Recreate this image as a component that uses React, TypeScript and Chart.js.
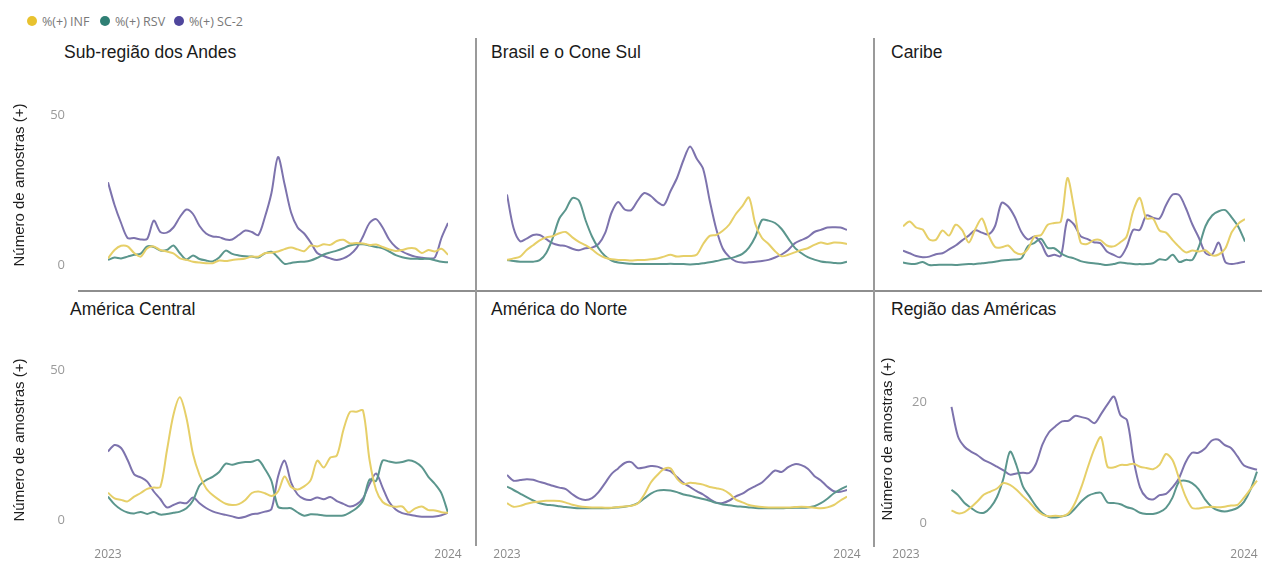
import React, { useEffect, useRef } from 'react';
import { Chart, registerables } from 'chart.js';

Chart.register(...registerables);

// ---------- labels ----------
const SERIES_LABELS = ['%(+) INF', '%(+) RSV', '%(+) SC-2'];
const X_TICK_LABELS = ['2023', '2024'];
const X_TICK_WEEKS = [0, 52];
const Y_AXIS_TITLE = 'Número de amostras (+)';

// ---------- data (weekly values, % positive) ----------
const ANDES_INF = [2.2, 5, 6.4, 6.2, 4, 2.8, 5.6, 6.2, 5, 4.5, 3.9, 2.2, 1.7, 1.1, 0.8, 0.6, 0.6, 1.5, 1.3, 1.7, 1.9, 2.2, 2.8, 2.8, 3.9, 4.1, 4.5, 5.3, 5.8, 5.2, 4.6, 6.5, 6.2, 6.9, 6.7, 8, 8.4, 7.2, 7.3, 7.2, 6.7, 6.8, 6, 5.2, 4.7, 5, 5.6, 5.5, 4, 5, 4.5, 5.4, 3.4];
const ANDES_RSV = [1.7, 2.5, 2.2, 2.8, 3.4, 3.8, 6.2, 6, 4.8, 5, 6.5, 3.9, 1.8, 3.2, 2, 1.5, 1.2, 2.5, 4.8, 3.7, 3.2, 2.9, 2.8, 2.5, 3.9, 4.4, 2.5, 0.4, 0.7, 1, 1.1, 1.5, 2.4, 3.5, 4.2, 4.8, 5.6, 6.5, 6.9, 6.9, 6.5, 6, 5.6, 4.5, 3.3, 2.6, 2.2, 2.1, 2, 2.1, 1.6, 1.1, 0.9];
const ANDES_SC2 = [27.6, 20, 14, 9, 9, 8.5, 8.7, 14.8, 11, 10.8, 12.5, 16, 18.5, 17, 13, 10.5, 9.5, 9.3, 8.5, 8.5, 10, 11.5, 11, 10, 16, 24, 36, 27, 17.5, 12.5, 10.5, 7.5, 4, 3, 2.2, 1.7, 2.2, 3.4, 5.6, 9.5, 14, 15.3, 12.5, 8.5, 6, 4.5, 3.5, 2.8, 2.4, 2.2, 2.5, 9, 14];

const BRASIL_INF = [1.7, 2.2, 2.8, 5, 6.6, 8.2, 9.2, 9.6, 10.6, 11, 9.2, 7.7, 6.6, 5.2, 3.5, 2.4, 1.9, 1.7, 1.7, 1.5, 1.7, 1.7, 1.9, 2.2, 2.8, 3.4, 2.8, 3, 3, 3.4, 7, 9.7, 10, 11.4, 13.5, 17, 19.6, 22.5, 13.5, 9, 7, 4.6, 2.9, 3.4, 4.2, 5, 5.6, 6.7, 7.5, 7, 7.5, 7.4, 7];
const BRASIL_RSV = [1.7, 1.3, 1.1, 1.1, 1.1, 1.6, 4, 9, 15.5, 18.5, 22.3, 21.5, 15, 9.5, 5.6, 3, 1.5, 0.8, 0.6, 0.4, 0.3, 0.3, 0.3, 0.3, 0.3, 0.4, 0.3, 0.3, 0.2, 0.3, 0.6, 0.9, 1.3, 1.8, 2.2, 2.8, 3.7, 5.8, 9.5, 15, 14.8, 14, 12, 8.9, 5.8, 4, 2.6, 1.8, 1.2, 0.9, 0.7, 0.6, 1.1];
const BRASIL_SC2 = [23.5, 12.3, 7.9, 8.8, 10, 10, 8.6, 7.2, 6.6, 6.3, 5.4, 4.9, 5.6, 5.8, 7, 10.6, 17.5, 21, 18.5, 18.3, 21.5, 24, 23, 21, 20, 24.6, 29, 35, 39.5, 35.5, 32, 21.5, 12, 5.5, 2.7, 1.2, 0.8, 0.9, 1.1, 1.3, 1.7, 2.5, 3.5, 5, 7.2, 8.3, 9.3, 11, 11.7, 12.5, 12.6, 12.5, 11.7];

const CARIBE_INF = [12.9, 14.5, 12.5, 11.8, 8.5, 8.4, 11.5, 9.8, 13.4, 11.6, 7.5, 12, 15.5, 10, 6, 5.9, 6.5, 4.3, 3.6, 5.4, 9.5, 10, 13.4, 14, 14.5, 29, 19, 7.5, 7, 8.3, 8.3, 6.5, 6.2, 7.5, 9.5, 18, 22.4, 15.5, 15.5, 11.5, 10.8, 8.3, 6, 4.2, 4.8, 4.5, 4.9, 3.2, 3.5, 5.5, 11, 13.8, 15.3];
const CARIBE_RSV = [0.8, 0.4, 0.4, 1, 0, 0, 0.1, 0.1, 0, 0.2, 0.3, 0.3, 0.6, 0.8, 1.1, 1.5, 1.7, 1.8, 2.2, 6.3, 7.4, 8.7, 5.7, 5.6, 3.9, 2.8, 2.2, 1.3, 0.8, 0.6, 0.3, 0, 0.3, 0.8, 0.6, 0.3, 0.3, 0.3, 0.6, 1.9, 1.7, 3.4, 1, 1.7, 1.7, 6.2, 13, 16.5, 17.9, 18.3, 15.8, 12.7, 7.8];
const CARIBE_SC2 = [4.8, 3.9, 3, 2.6, 2.8, 3.6, 3.9, 5.2, 6.5, 8.2, 9.8, 11.6, 10.8, 10.2, 13, 20.7, 19.5, 16, 11, 8.5, 9.5, 7.2, 3, 3.4, 3, 15, 13.5, 9.6, 8.7, 7.6, 7.3, 4.5, 3.4, 2.6, 6, 11.7, 11.7, 16.5, 15.8, 15.5, 20, 23.5, 23.3, 19, 13.5, 9, 4, 3.5, 7.5, 1, 0.3, 0.7, 1.1];

const CENTRAL_INF = [9.1, 7.2, 6.7, 6.2, 7.8, 9, 10.4, 10.8, 11, 23, 35, 40.9, 34, 22, 15, 10.6, 8.3, 6.7, 5.4, 5, 5.3, 6.7, 9, 9.5, 8.9, 8, 9.5, 14.5, 11, 10.2, 11.2, 13.3, 19.8, 17.5, 20.8, 21.5, 30, 36, 36.1, 36.5, 20, 10, 6, 4.8, 4.4, 4.5, 2.5, 3.9, 4.5, 3.3, 3.2, 2.6, 2.4];
const CENTRAL_RSV = [7.8, 5.2, 3.5, 2.5, 2.2, 2.7, 2, 2.7, 1.8, 2, 2.4, 2.8, 3.9, 6.5, 11.5, 13.3, 14.4, 16, 18.8, 18.4, 19, 19.3, 19.4, 20, 17, 13, 4.4, 3.9, 3.9, 2.5, 1.4, 1.9, 1.8, 1.5, 1.4, 1.4, 1.5, 2.5, 3.9, 6.5, 13.5, 13, 19.8, 19.5, 19.1, 19.3, 19.9, 19.3, 17.6, 14.4, 12, 8.9, 2.4];
const CENTRAL_SC2 = [22.8, 25, 24, 20, 15.2, 14.2, 12.8, 9.5, 7, 4.2, 5, 5.8, 5.6, 7.5, 5.6, 4, 2.9, 2.2, 1.7, 1.2, 0.7, 1.1, 1.9, 2.2, 2.8, 3.6, 14.4, 19.8, 12.5, 8.5, 7, 6.7, 7.5, 6.9, 7.7, 6.3, 5.4, 4.5, 5.2, 7.2, 12, 15.5, 10.8, 6, 3.5, 2.3, 1.8, 1.4, 1.1, 1.1, 1.2, 1.6, 2.4];

const NORTE_INF = [5.6, 4.4, 4.7, 5.4, 5.9, 6.2, 6.4, 6.4, 6.3, 5.8, 5.1, 4.6, 4.3, 4.2, 4.2, 4.1, 4.1, 4.3, 4.5, 4.7, 5.5, 8.5, 12.5, 15, 17, 17.2, 13.8, 12, 12.4, 12.2, 11.8, 11, 10.6, 10.1, 8.8, 6.8, 5.9, 5, 4.6, 4.3, 4.2, 4.2, 4.2, 4.2, 4.3, 4.4, 4.3, 4.1, 3.9, 4.2, 5, 6.5, 7.8];
const NORTE_RSV = [11.1, 10, 8.8, 7.6, 6.5, 5.6, 5.1, 4.9, 4.6, 4.3, 4.1, 3.9, 3.9, 3.9, 3.9, 3.9, 4, 4.2, 4.4, 4.8, 5.6, 7.2, 8.8, 9.8, 10, 9.8, 9.3, 8.5, 8.1, 7.5, 7, 6.4, 5.7, 5.2, 4.9, 4.6, 4.4, 4.2, 4, 3.9, 3.9, 3.9, 3.9, 4, 4.1, 4.1, 4.2, 4.6, 5.6, 7.1, 8.9, 10.2, 11.3];
const NORTE_SC2 = [15, 13.1, 13.3, 13.6, 13.4, 12.7, 12.1, 11.4, 10.8, 10.3, 8.6, 7.2, 6.7, 7.3, 9.3, 12.3, 15.4, 17.2, 19, 19.3, 17.3, 17.5, 18, 17.8, 16.9, 16.3, 14.3, 12.3, 11, 9.6, 8.5, 7, 5.8, 5.7, 6.5, 7.9, 8.8, 10.2, 11.3, 12.5, 14.6, 16.5, 16, 17.6, 18.6, 18.3, 17.1, 14.7, 13.2, 11.1, 9.6, 9.4, 10];

const REGIAO_START_WEEK = 7;
const REGIAO_INF = [2.1, 1.6, 1.8, 2.6, 3.6, 4.7, 5.2, 5.7, 6.6, 6.3, 5.5, 4.4, 3.4, 2.2, 1.4, 1.1, 1.2, 1.1, 1.6, 3.3, 6, 9.3, 12.3, 14.2, 9.3, 9.2, 9.6, 9.6, 9.8, 9.3, 9.1, 8.9, 9.6, 11.4, 10.4, 7.4, 4.4, 2.5, 2.4, 2.6, 2.7, 2.6, 2.7, 2.9, 3, 4.2, 5.6, 7];
const REGIAO_RSV = [5.5, 4.6, 3.3, 2.5, 1.8, 1.7, 2.6, 4.3, 7.4, 11.8, 9.5, 6, 4.4, 2.8, 1.6, 1, 0.9, 1.1, 1.4, 2.4, 3.6, 4.5, 4.9, 5, 3.4, 3.3, 3.1, 2.6, 2.3, 1.7, 1.5, 1.5, 1.8, 2.5, 4.2, 6.8, 7, 6.6, 5.6, 3.9, 2.7, 2.1, 1.9, 2.1, 2.5, 3.5, 5.5, 8.5];
const REGIAO_SC2 = [19.2, 14.3, 12.6, 11.8, 11.2, 10.4, 9.9, 9.3, 8.7, 8, 8.2, 8.3, 8.3, 9.8, 13, 15, 16, 16.8, 16.9, 17.7, 17.5, 17.2, 16.5, 18, 19.6, 20.9, 17.8, 17, 10.5, 5.9, 4.2, 3.9, 4.6, 4.8, 5.9, 7.4, 10, 11.6, 11.6, 12.3, 13.6, 13.8, 12.9, 12.4, 11, 9.5, 9.1, 8.8];

const TICKS_50 = [0, 50];
const TICKS_20 = [0, 20];

// ---------- styles ----------
const LINE_COLORS = ['#E6CF68', '#5B968D', '#7D73AD'];
const LEGEND_COLORS = ['#E8C22F', '#2F7F74', '#4F469C'];
const ARIAL = "'Liberation Sans', Arial, sans-serif";
const SEGOE = "'Open Sans', 'Noto Sans', sans-serif";

type Panel = {
  title: string;
  titleLeft: number;
  titleTop: number;
  series: number[][];
  startWeek: number;
  yTicks: number[];
  box: { left: number; top: number; width: number; height: number };
  pad: { left: number; right: number; top: number; bottom: number };
  showY: boolean;
  showX: boolean;
  yMin: number;
  yMax: number;
  xMax: number;
  yAxisW: number;
  yTickPad: number;
  yMirror: boolean;
  yTitlePad: number;
  xAxisH: number;
  xTickPad: number;
};

const PANELS: Panel[] = [
  {
    title: 'Sub-região dos Andes', titleLeft: 64, titleTop: 42,
    series: [ANDES_INF, ANDES_RSV, ANDES_SC2], startWeek: 0, yTicks: TICKS_50,
    box: { left: 0, top: 60, width: 476, height: 230 }, pad: { left: 0, right: 28, top: 40, bottom: 20 },
    showY: true, showX: false, yMin: -5 / 3, yMax: 55, xMax: 52,
    yAxisW: 108, yTickPad: 43, yMirror: false, yTitlePad: 11, xAxisH: 0, xTickPad: 0,
  },
  {
    title: 'Brasil e o Cone Sul', titleLeft: 491, titleTop: 42,
    series: [BRASIL_INF, BRASIL_RSV, BRASIL_SC2], startWeek: 0, yTicks: TICKS_50,
    box: { left: 478, top: 60, width: 396, height: 230 }, pad: { left: 29, right: 27, top: 40, bottom: 20 },
    showY: false, showX: false, yMin: -5 / 3, yMax: 55, xMax: 52,
    yAxisW: 0, yTickPad: 0, yMirror: false, yTitlePad: 0, xAxisH: 0, xTickPad: 0,
  },
  {
    title: 'Caribe', titleLeft: 891, titleTop: 42,
    series: [CARIBE_INF, CARIBE_RSV, CARIBE_SC2], startWeek: 0, yTicks: TICKS_50,
    box: { left: 876, top: 60, width: 386, height: 230 }, pad: { left: 27, right: 17, top: 40, bottom: 20 },
    showY: false, showX: false, yMin: -5 / 3, yMax: 55, xMax: 52,
    yAxisW: 0, yTickPad: 0, yMirror: false, yTitlePad: 0, xAxisH: 0, xTickPad: 0,
  },
  {
    title: 'América Central', titleLeft: 70, titleTop: 299,
    series: [CENTRAL_INF, CENTRAL_RSV, CENTRAL_SC2], startWeek: 0, yTicks: TICKS_50,
    box: { left: 0, top: 292, width: 476, height: 271 }, pad: { left: 0, right: 28, top: 63, bottom: 0 },
    showY: true, showX: true, yMin: -5 / 3, yMax: 55, xMax: 52,
    yAxisW: 108, yTickPad: 43, yMirror: false, yTitlePad: 11, xAxisH: 38, xTickPad: 22,
  },
  {
    title: 'América do Norte', titleLeft: 491, titleTop: 299,
    series: [NORTE_INF, NORTE_RSV, NORTE_SC2], startWeek: 0, yTicks: TICKS_50,
    box: { left: 478, top: 292, width: 396, height: 271 }, pad: { left: 29, right: 27, top: 63, bottom: 0 },
    showY: false, showX: true, yMin: -5 / 3, yMax: 55, xMax: 52,
    yAxisW: 0, yTickPad: 0, yMirror: false, yTitlePad: 0, xAxisH: 38, xTickPad: 22,
  },
  {
    title: 'Região das Américas', titleLeft: 891, titleTop: 299,
    series: [REGIAO_INF, REGIAO_RSV, REGIAO_SC2], startWeek: REGIAO_START_WEEK, yTicks: TICKS_20,
    box: { left: 876, top: 292, width: 386, height: 271 }, pad: { left: 0, right: 0, top: 58, bottom: 0 },
    showY: true, showX: true, yMin: -5 / 6.05, yMax: 173 / 6.05, xMax: 356 / 6.5,
    yAxisW: 30, yTickPad: 6, yMirror: true, yTitlePad: 3, xAxisH: 35, xTickPad: 19,
  },
];

function PanelChart({ p }: { p: Panel }) {
  const ref = useRef<HTMLCanvasElement | null>(null);
  useEffect(() => {
    const canvas = ref.current;
    if (!canvas) return;
    const chart = new Chart(canvas, {
      type: 'line',
      data: {
        datasets: p.series.map((values, i) => ({
          label: SERIES_LABELS[i],
          data: values.map((v, k) => ({ x: p.startWeek + k, y: v })),
          borderColor: LINE_COLORS[i],
          backgroundColor: LINE_COLORS[i],
          borderWidth: 2,
          pointRadius: 0,
          tension: 0.3,
          fill: false,
        })),
      },
      options: {
        animation: false,
        responsive: false,
        maintainAspectRatio: false,
        events: [],
        layout: { padding: p.pad },
        plugins: { legend: { display: false }, tooltip: { enabled: false } },
        scales: {
          x: {
            type: 'linear',
            display: p.showX,
            min: 0,
            max: p.xMax,
            grid: { display: false, drawTicks: false },
            border: { display: false },
            ticks: {
              padding: p.xTickPad,
              color: '#8a8a8a',
              font: { family: SEGOE, size: 12 },
              maxRotation: 0,
              autoSkip: false,
              callback: (v: any) => {
                const i = X_TICK_WEEKS.indexOf(Number(v));
                return i >= 0 ? X_TICK_LABELS[i] : '';
              },
            },
            afterBuildTicks: (s: any) => {
              s.ticks = X_TICK_WEEKS.map((v) => ({ value: v }));
            },
            afterFit: (s: any) => {
              s.height = p.xAxisH;
              s.paddingLeft = 0;
              s.paddingRight = 0;
            },
          },
          y: {
            type: 'linear',
            display: p.showY,
            min: p.yMin,
            max: p.yMax,
            grid: { display: false, drawTicks: false },
            border: { display: false },
            ticks: {
              padding: p.yTickPad,
              mirror: p.yMirror,
              crossAlign: p.yMirror ? 'far' : 'near',
              color: '#9a9a9a',
              font: { family: SEGOE, size: 13 },
              autoSkip: false,
            },
            afterBuildTicks: (s: any) => {
              s.ticks = p.yTicks.map((v) => ({ value: v }));
            },
            afterFit: (s: any) => {
              s.width = p.yAxisW;
              s.paddingTop = 0;
              s.paddingBottom = 0;
            },
            title: {
              display: true,
              text: Y_AXIS_TITLE,
              color: '#1e1e1e',
              font: { family: ARIAL, size: 15 },
              padding: { top: p.yTitlePad, bottom: 0 },
            },
          },
        },
      } as any,
    });
    return () => chart.destroy();
  }, [p]);
  return (
    <canvas
      ref={ref}
      width={p.box.width}
      height={p.box.height}
      style={{ position: 'absolute', left: p.box.left, top: p.box.top, width: p.box.width, height: p.box.height }}
    />
  );
}

const LEGEND_LEFTS = [27, 100, 174];

export default function App() {
  return (
    <div style={{ position: 'fixed', left: 0, top: 0, width: 1262, height: 563, background: '#fff', overflow: 'hidden' }}>
      {SERIES_LABELS.map((lab, i) => (
        <div
          key={lab}
          style={{
            position: 'absolute', left: LEGEND_LEFTS[i], top: 12, height: 18, display: 'flex', alignItems: 'center',
            fontFamily: SEGOE, fontSize: 12.5, color: '#787878', whiteSpace: 'nowrap',
          }}
        >
          <span style={{ display: 'inline-block', width: 10, height: 10, borderRadius: 5, background: LEGEND_COLORS[i], marginRight: 5 }} />
          {lab}
        </div>
      ))}
      <div style={{ position: 'absolute', left: 78, top: 290, width: 1184, height: 2, background: '#8e8e8e' }} />
      <div style={{ position: 'absolute', left: 475, top: 38, width: 2, height: 508, background: '#9a9a9a' }} />
      <div style={{ position: 'absolute', left: 873, top: 38, width: 2, height: 509, background: '#9a9a9a' }} />
      {PANELS.map((p) => (
        <div
          key={p.title + '-t'}
          style={{
            position: 'absolute', left: p.titleLeft, top: p.titleTop, lineHeight: '20px',
            fontFamily: ARIAL, fontSize: 17.5, color: '#1a1a1a', whiteSpace: 'nowrap',
          }}
        >
          {p.title}
        </div>
      ))}
      {PANELS.map((p) => (
        <PanelChart key={p.title} p={p} />
      ))}
    </div>
  );
}
